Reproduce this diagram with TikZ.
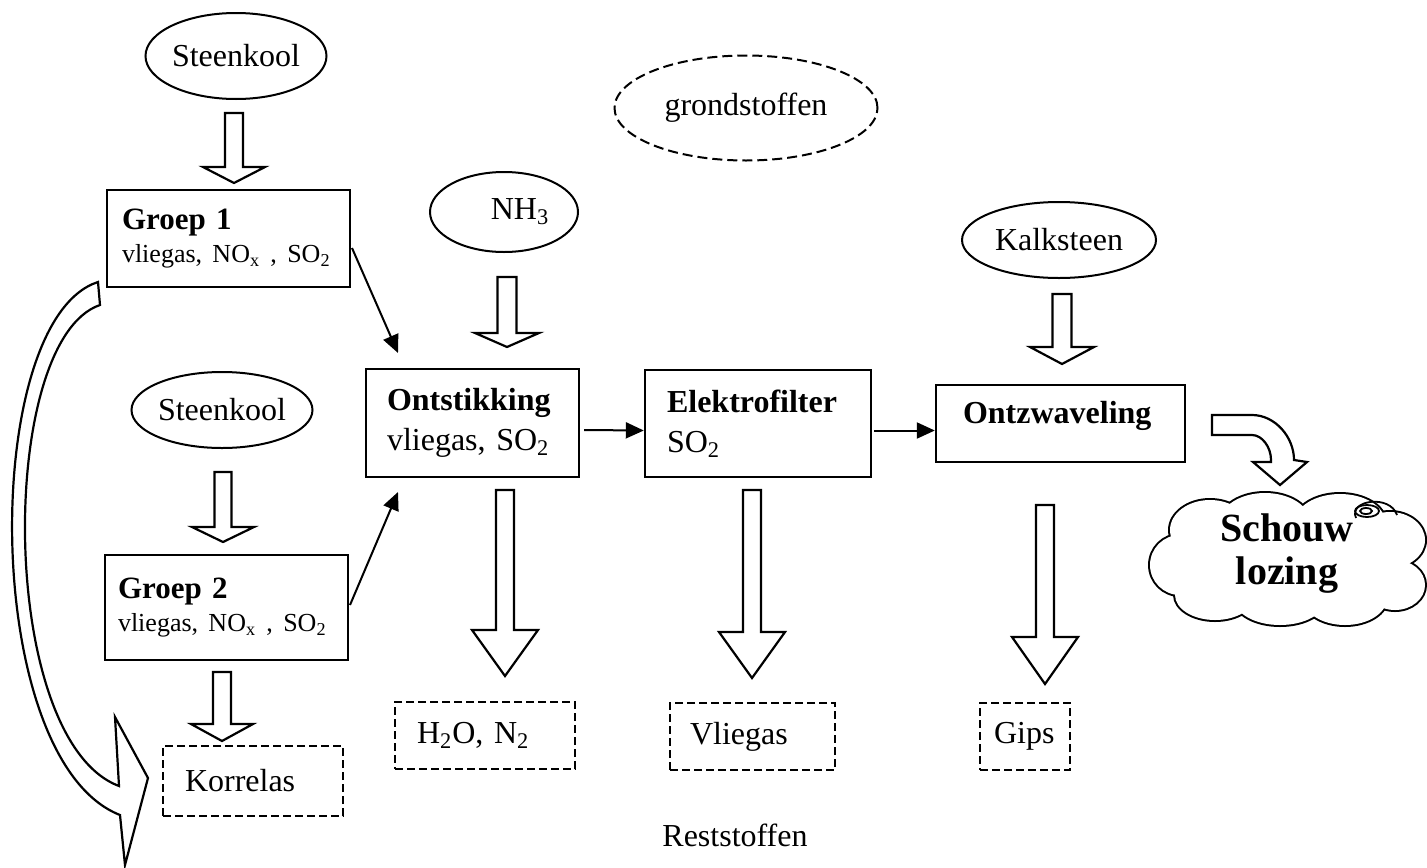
\documentclass[tikz,border=0pt]{standalone}
\usepackage{fontspec}
\setmainfont{Liberation Serif}
\usetikzlibrary{shapes.geometric,arrows.meta,calc}
\newcommand\blockdown[6]{\draw[blk] (#1-#5,#2) -- (#1+#5,#2) -- (#1+#5,#3) -- (#1+#6,#3) -- (#1,#4) -- (#1-#6,#3) -- (#1-#5,#3) -- cycle;}
\newcommand\gline{{\fontsize{13}{16.5}\selectfont\mbox{vliegas, NO\textsubscript{x} , SO\textsubscript{2}}}}
\newcommand\puffs{1210/530/40/30, 1265/522/45/29, 1340/522/45/28, 1390/540/35/28, 1395/585/30/25, 1345/598/42/27, 1280/600/45/25, 1215/595/40/25, 1180/565/30/30, 1285/560/100/45}
\begin{document}
\begin{tikzpicture}[x=0.5pt,y=-0.5pt,
  font=\fontsize{16}{20}\selectfont,
  ell/.style={draw, ellipse, line width=1pt, inner sep=0pt},
  dell/.style={ell, dash pattern=on 5pt off 2.5pt},
  box/.style={draw, rectangle, line width=1.2pt, align=left},
  gbox/.style={box, font=\fontsize{15.5}{16.5}\selectfont},
  dbox/.style={draw, rectangle, line width=1.2pt, dash pattern=on 4pt off 2pt, align=left},
  conn/.style={line width=1pt, -{Triangle[length=9pt,width=8pt]}},
  blk/.style={draw, line width=1.1pt, fill=white, line join=miter}]
\useasboundingbox (0,0) rectangle (1427,867);

% ellipses
\node[ell, minimum width=88pt, minimum height=43pt] (st1) at (236,56) {Steenkool};
\node[dell, minimum width=131.5pt, minimum height=52.5pt] (grond) at (746,108) {grondstoffen};
\node[ell, minimum width=74pt, minimum height=40pt] (nh3) at (504,212) {\hspace{16pt}NH\textsubscript{3}};
\node[ell, minimum width=97pt, minimum height=38pt] (kalk) at (1059,240) {Kalksteen};
\node[ell, minimum width=86pt, minimum height=38pt] (st2) at (222,410) {Steenkool};

% process boxes
\node[gbox, minimum width=121.5pt, minimum height=48.5pt, inner xsep=7.5pt, text width=106.5pt] (g1) at (228.5,238.5)
  {\textbf{Groep 1}\\\gline};
\node[gbox, minimum width=121.5pt, minimum height=52.5pt, inner xsep=6.5pt, text width=108.5pt] (g2) at (226.5,607.5)
  {\textbf{Groep 2}\\\gline};
\node[box, minimum width=106.5pt, minimum height=54pt, inner xsep=10.5pt, text width=85.5pt] (ont) at (472.5,423)
  {\textbf{Ontstikking}\\vliegas, SO\textsubscript{2}};
\node[box, minimum width=113pt, minimum height=53.5pt, inner xsep=11pt, text width=91pt] (elek) at (758,423.5)
  {\textbf{Elektrofilter}\\SO\textsubscript{2}};
\node[box, minimum width=124.5pt, minimum height=38.5pt, inner xsep=13.5pt, text width=97.5pt, text height=10pt, text depth=10pt] (ontz) at (1060.5,423.5)
  {\textbf{Ontzwaveling}};

% residue boxes
\node[dbox, minimum width=90pt, minimum height=35pt, inner xsep=11pt, text width=68pt] (korr) at (253,781) {Korrelas};
\node[dbox, minimum width=90pt, minimum height=33.5pt, inner xsep=11pt, text width=68pt] (h2o) at (485,735.5) {H\textsubscript{2}O, N\textsubscript{2}};
\node[dbox, minimum width=82.5pt, minimum height=33.5pt, inner xsep=10pt, text width=62.5pt] (vlg) at (752.5,736.5) {Vliegas};
\node[dbox, minimum width=45pt, minimum height=33.5pt, inner xsep=7pt, text width=31pt] (gips) at (1025,736.5) {Gips};
\node (rest) at (735,835) {Reststoffen};

% cloud (outline of overlapping puffs)
\foreach \cx/\cy/\rx/\ry in \puffs {\draw[line width=2pt] (\cx,\cy) ellipse [x radius=\rx, y radius=\ry];}
\foreach \cx/\cy/\rx/\ry in \puffs {\fill[white] (\cx,\cy) ellipse [x radius=\rx, y radius=\ry];}
\draw[line width=0.9pt] (1367,511) ellipse [x radius=12, y radius=6];
\draw[line width=0.9pt] (1366,511) ellipse [x radius=6, y radius=3];
\draw[line width=0.9pt] (1356,518) .. controls (1348,500) and (1390,494) .. (1397,515);
\node[align=center, font=\fontsize{20}{21.5}\selectfont\bfseries] (cltxt) at (1287,554) {Schouw\\lozing};

% thin connectors
\coordinate (c1s) at (352,248);
\coordinate (c1e) at (398,353);
\coordinate (c2s) at (350,605);
\coordinate (c2e) at (398,492);
\draw[conn] (c1s) -- (c1e);
\draw[conn] (c2s) -- (c2e);
\draw[conn] ([xshift=2pt,yshift=-3.5pt]ont.east) -- ([yshift=-3.5pt]elek.west);
\draw[conn] ([xshift=1pt,yshift=-3.5pt]elek.east) -- ([yshift=-3.5pt]ontz.west);

% block arrows
\blockdown{234}{113}{167}{183}{9}{31}
\blockdown{507}{277}{333}{347}{9.5}{32}
\blockdown{1062}{294}{347}{364}{9.5}{32}
\blockdown{223}{472}{527}{542}{8.5}{31}
\blockdown{222}{672}{724}{741}{9}{31}
\blockdown{505}{490}{630}{676}{9}{33}
\blockdown{752}{490}{632}{678}{9}{33}
\blockdown{1045}{505}{637}{684}{9}{33}

% bent arrow to cloud
\draw[blk] (1212,415) -- (1252,415) .. controls (1275,415) and (1294,437) .. (1294,460)
  -- (1307,462) -- (1280,485) -- (1253,462) -- (1271,462) -- (1271,460)
  .. controls (1271,447) and (1262,435) .. (1252,435) -- (1212,435) -- cycle;

% big curved arrow on the left
\draw[blk] (98,282) .. controls (-20,320) and (-20,760) .. (120,815)
  -- (125,865) -- (148,778) -- (115,717) -- (119,786)
  .. controls (-3,740) and (-3,340) .. (100,305) -- cycle;
\end{tikzpicture}
\end{document}
